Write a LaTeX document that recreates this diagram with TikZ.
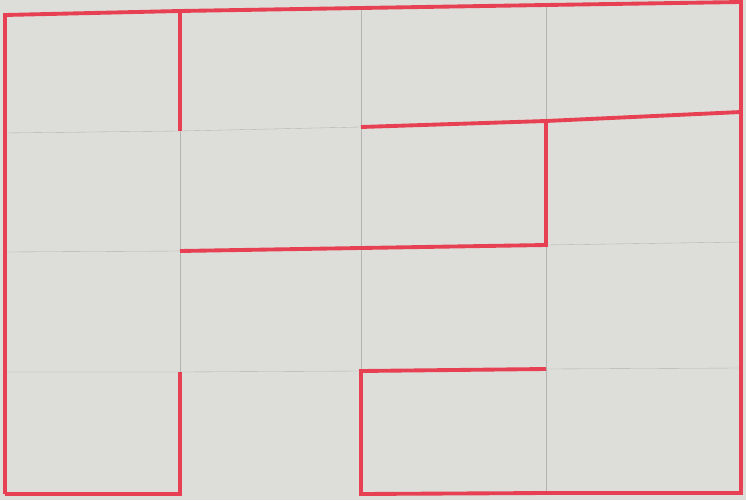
\documentclass[tikz,border=0pt]{standalone}
\definecolor{PaperGrey}{RGB}{221,222,218}
\definecolor{PenRed}{RGB}{230,64,82}
\definecolor{PencilGrey}{RGB}{178,178,176}

\begin{document}
\begin{tikzpicture}[x=0.02cm, y=-0.02cm]
                % Paper sheet
                \fill[PaperGrey] (0,0) rectangle (746,500);

                % Grid points p<col><row> (photo is a little skewed)
                \foreach \c/\x/\ya/\yb/\yc/\yd/\ye in {0/5/15/133/252/372/494, 1/180/11/131/251/372/494,
                    2/361/8/127/248/371/494, 3/546/5/121/245/369/493, 4/741/2/112/242/368/493}{
                  \coordinate (p\c0) at (\x,\ya);
                  \coordinate (p\c1) at (\x,\yb);
                  \coordinate (p\c2) at (\x,\yc);
                  \coordinate (p\c3) at (\x,\yd);
                  \coordinate (p\c4) at (\x,\ye);
                }

                % Pencil grid
                \foreach \c in {1,2,3}
                  \draw[PencilGrey, very thin] (p\c0) -- (p\c4);
                \foreach \r in {1,2,3}
                  \draw[PencilGrey, very thin] (p0\r) -- (p1\r) -- (p2\r) -- (p3\r) -- (p4\r);

                % Red cut lines
                \draw[PenRed, line width=2.2pt, line join=miter] (p04) -- (p00) -- (p10) -- (p20) -- (p30) -- (p40) -- (p44) -- (p34) -- (p24) -- (p23) -- (p33);
                \draw[PenRed, line width=2.2pt] (p04) -- (p14) -- (p13);
                \draw[PenRed, line width=2.2pt] (p10) -- (p11);
                \draw[PenRed, line width=2.2pt] (p21) -- (p31) -- (p41);
                \draw[PenRed, line width=2.2pt] (p31) -- (p32) -- (p22) -- (p12);
            \end{tikzpicture}
\end{document}
